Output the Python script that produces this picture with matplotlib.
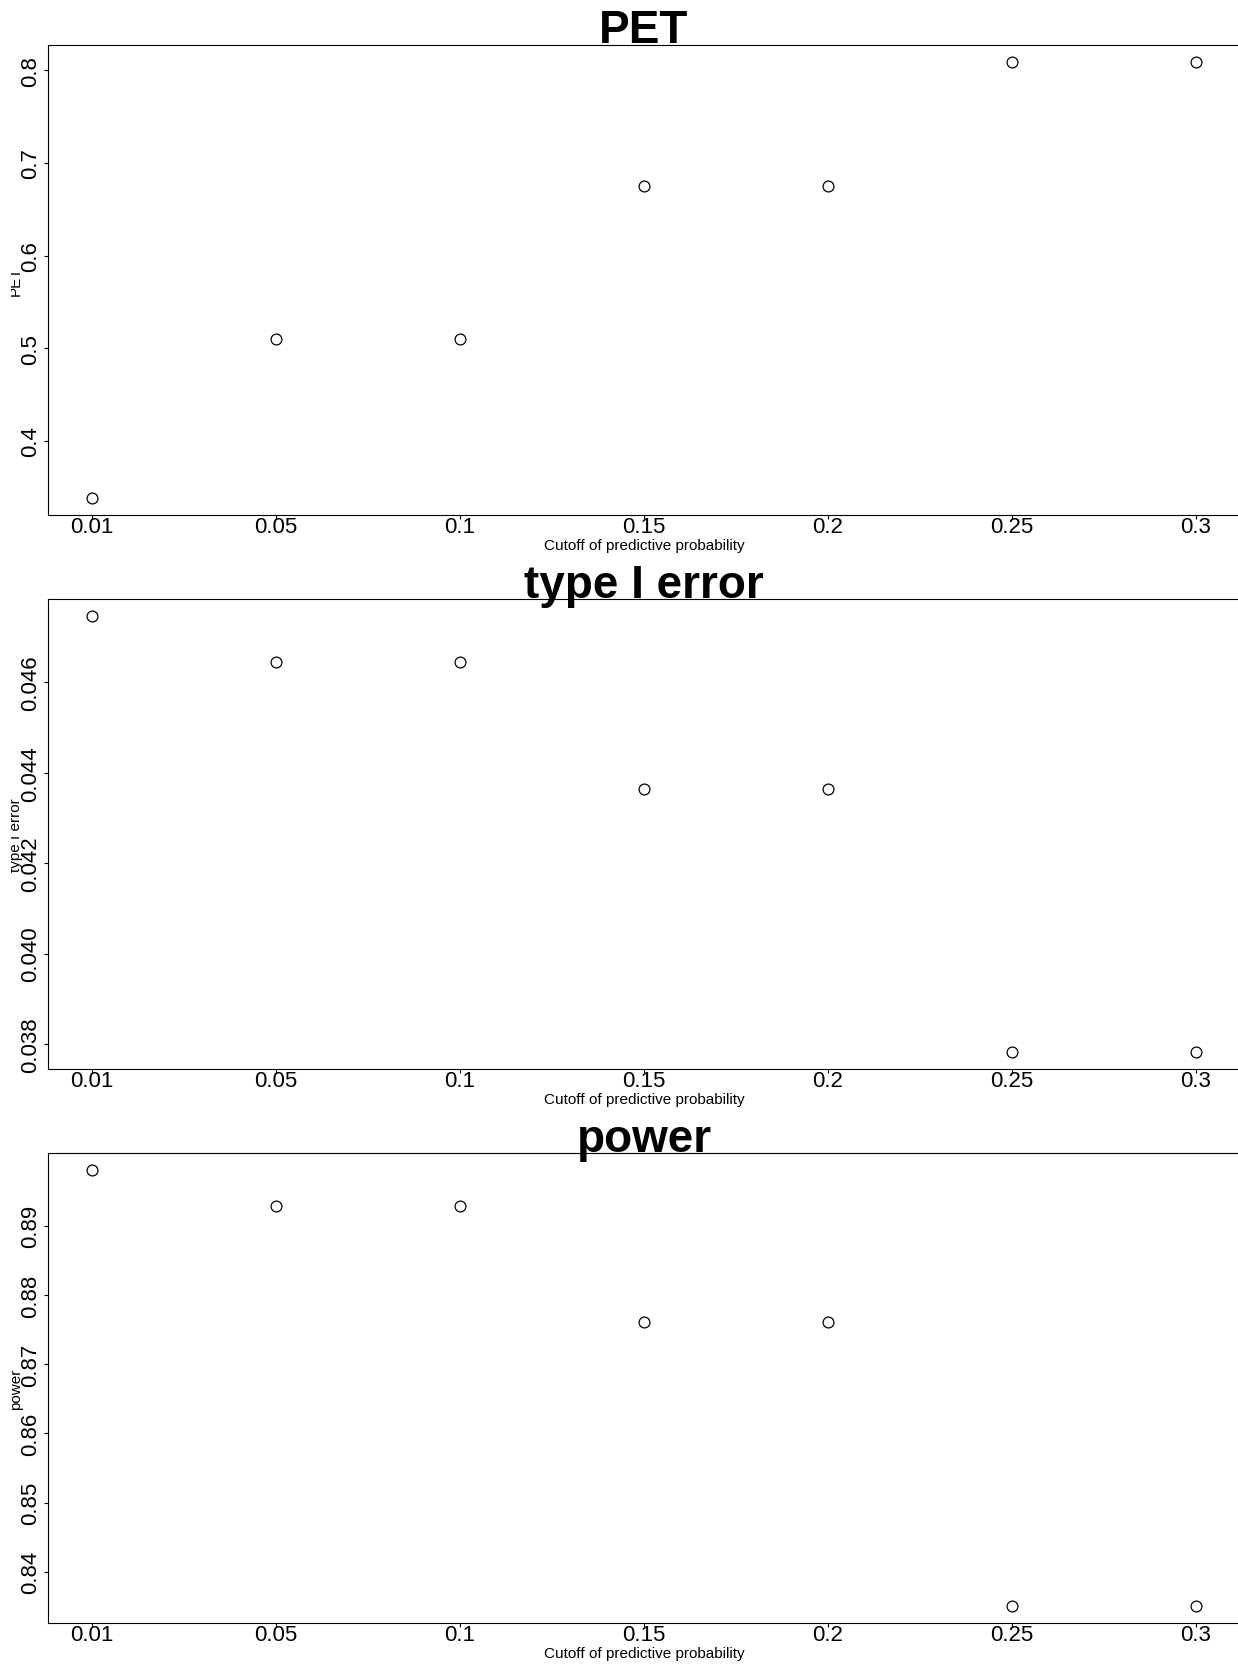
import matplotlib
matplotlib.use("Agg")
import matplotlib.pyplot as plt
import numpy as np
from matplotlib.transforms import Bbox, TransformedBbox, offset_copy

plt.rcParams["font.family"] = ["Liberation Sans", "DejaVu Sans"]

# ---- data ----
categories = ["0.01", "0.05", "0.1", "0.15", "0.2", "0.25", "0.3"]
pet = [0.339, 0.510, 0.510, 0.675, 0.675, 0.809, 0.809]
type1 = [0.04746, 0.04646, 0.04646, 0.04364, 0.04364, 0.03783, 0.03783]
power = [0.8980, 0.8928, 0.8928, 0.8761, 0.8761, 0.8351, 0.8351]

titles = ["PET", "type I error", "power"]
xlabel_text = "Cutoff of predictive probability"
pet_ticks = [0.4, 0.5, 0.6, 0.7, 0.8]
type1_ticks = [0.038, 0.040, 0.042, 0.044, 0.046]
power_ticks = [0.84, 0.85, 0.86, 0.87, 0.88, 0.89]
tick_formats = ["%.1f", "%.3f", "%.2f"]

series = [pet, type1, power]
yticks = [pet_ticks, type1_ticks, power_ticks]

W_PX, H_PX = 1238, 1665
fig = plt.figure(figsize=(W_PX / 100, H_PX / 100), dpi=100)

left_px, right_px = 48, 1240
panel_px = [(45.5, 516), (600, 1070), (1154, 1624)]

x = np.arange(1, len(categories) + 1)

clip_bb = TransformedBbox(Bbox([[11 / W_PX, 0], [1, 1]]), fig.transFigure)

for vals, ticks, fmt, title, (top, bot) in zip(series, yticks, tick_formats, titles, panel_px):
    ax = fig.add_axes([left_px / W_PX, 1 - bot / H_PX,
                       (right_px - left_px) / W_PX, (bot - top) / H_PX])
    ax.plot(x, vals, "o", mfc="none", mec="black", ms=7.8, mew=0.9)
    ax.margins(0.04)
    ax.set_xticks(x)
    ax.set_xticklabels(categories)
    ax.set_yticks(ticks)
    ax.set_yticklabels([fmt % t for t in ticks])
    for s in ax.spines.values():
        s.set_linewidth(0.8)
    ax.tick_params(axis="x", direction="out", length=3, width=0.8, pad=-2,
                   labelsize=16)
    ax.tick_params(axis="y", direction="out", length=3, width=0.8, pad=2,
                   labelsize=16, labelrotation=90)
    for lbl in ax.get_yticklabels():
        lbl.set_va("center")

    ax.text(0.5, 1, title,
            transform=offset_copy(ax.transAxes, fig=fig, y=2.3, units="dots"),
            ha="center", va="baseline", fontsize=33, fontweight="bold",
            clip_on=False, zorder=5)
    ax.text(0.5, 0, xlabel_text,
            transform=offset_copy(ax.transAxes, fig=fig, y=-29.7, units="dots"),
            ha="center", va="center", fontsize=11, clip_on=False)

    yc = 1 - (top + bot) / 2 / H_PX
    t = fig.text(20 / W_PX, yc, title, rotation=90, rotation_mode="anchor",
                 ha="center", va="baseline", fontsize=11)
    t.set_clip_box(clip_bb)
    t.set_clip_on(True)

fig.savefig("out.png", dpi=100)
